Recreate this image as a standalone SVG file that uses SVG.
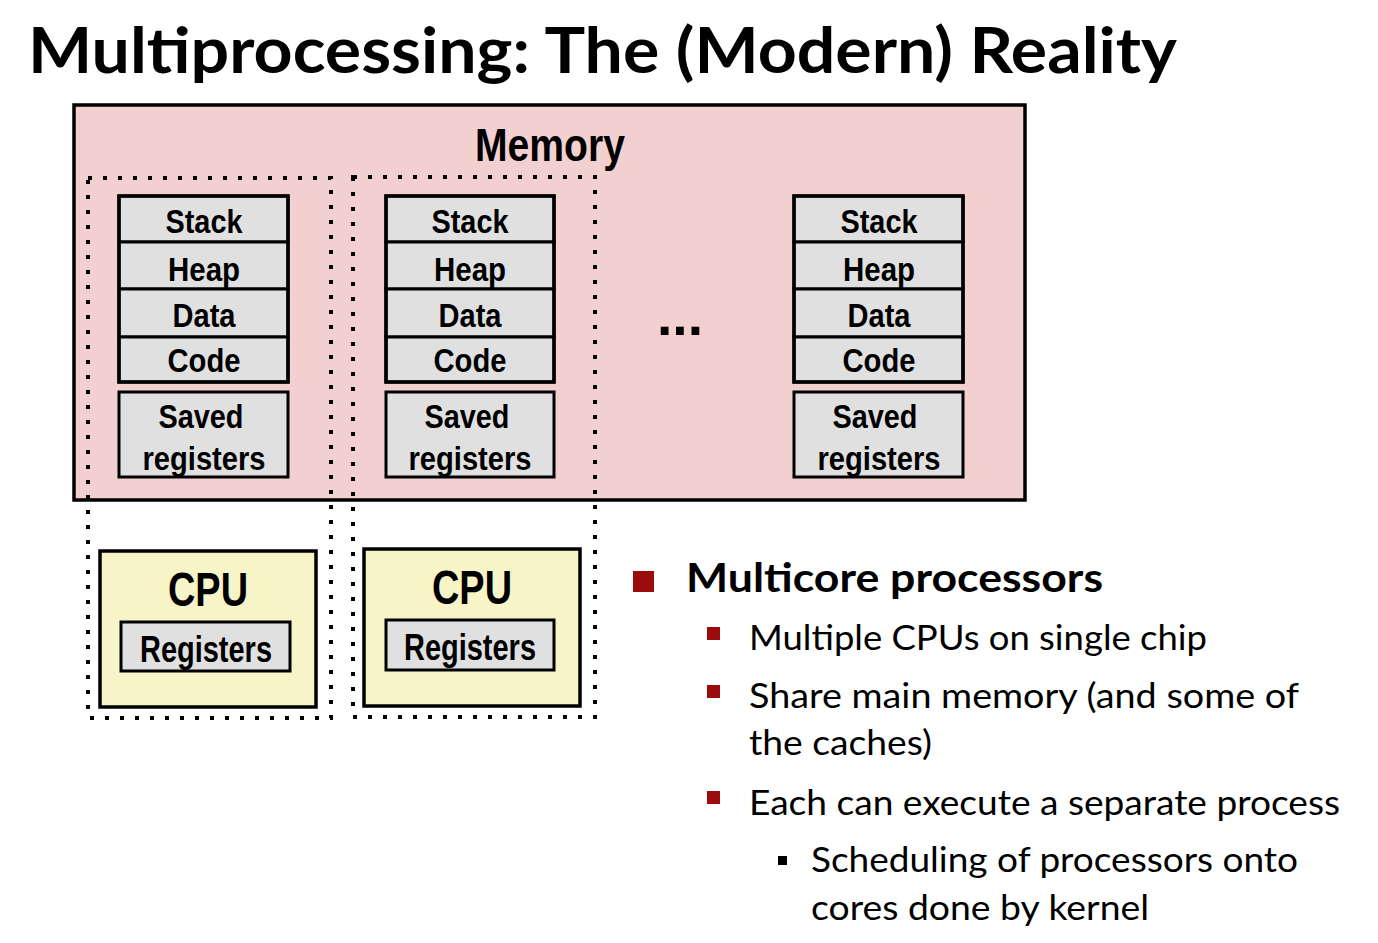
<svg xmlns="http://www.w3.org/2000/svg" width="1378" height="943" viewBox="0 0 1378 943">
  <defs>
    <style>
      .title { font-family: Lato, "Open Sans", sans-serif; font-weight: bold; font-size: 64px; fill: #000; }
      .lbl { font-family: "Liberation Sans Narrow", "Liberation Sans", sans-serif; font-weight: bold; fill: #000; text-anchor: middle; }
      .seg { fill: #e0e0e0; stroke: #000; stroke-width: 3; }
      .cpu { fill: #f7f4c8; stroke: #000; stroke-width: 3.5; }
      .dots { fill: none; stroke: #000; stroke-width: 4; stroke-dasharray: 4 11; }
      .b1 { font-family: Lato, "Open Sans", sans-serif; font-weight: bold; font-size: 41px; fill: #000; }
      .b2 { font-family: Lato, "Open Sans", sans-serif; font-size: 34px; fill: #000; }
      .red { fill: #9b0d0d; }
    </style>
  </defs>

  <rect width="1378" height="943" fill="#fff"/>

  <text class="title" x="28" y="73" textLength="1149" lengthAdjust="spacingAndGlyphs">Multiprocessing: The (Modern) Reality</text>

  <!-- shared memory -->
  <g id="memory">
    <rect x="74" y="105" width="951" height="395" fill="#f3d0d0" stroke="#000" stroke-width="3.5"/>
    <text class="lbl" x="550" y="161" font-size="46" textLength="150" lengthAdjust="spacingAndGlyphs">Memory</text>
    <text x="680" y="335" font-family="Liberation Sans, sans-serif" font-weight="bold" font-size="56" text-anchor="middle" textLength="46" lengthAdjust="spacingAndGlyphs">...</text>
  </g>

  <!-- process / core groupings -->
  <g id="groupings">
    <rect class="dots" x="88" y="178" width="243" height="540"/>
    <rect class="dots" x="353" y="177" width="242" height="540"/>
  </g>

  <!-- address space 1 -->
  <g id="proc1">
    <rect class="seg" x="119" y="196" width="169" height="46"/>
    <rect class="seg" x="119" y="242" width="169" height="47"/>
    <rect class="seg" x="119" y="289" width="169" height="48"/>
    <rect class="seg" x="119" y="337" width="169" height="45"/>
    <rect x="119" y="196" width="169" height="186" fill="none" stroke="#000" stroke-width="3.5"/>
    <text class="lbl" x="204" y="233" font-size="34" textLength="77" lengthAdjust="spacingAndGlyphs">Stack</text>
    <text class="lbl" x="204" y="281" font-size="34" textLength="72" lengthAdjust="spacingAndGlyphs">Heap</text>
    <text class="lbl" x="204" y="327" font-size="34" textLength="63" lengthAdjust="spacingAndGlyphs">Data</text>
    <text class="lbl" x="204" y="372" font-size="34" textLength="73" lengthAdjust="spacingAndGlyphs">Code</text>
    <rect class="seg" x="119" y="392" width="169" height="85" stroke-width="3.5"/>
    <text class="lbl" x="201" y="428" font-size="34" textLength="85" lengthAdjust="spacingAndGlyphs">Saved</text>
    <text class="lbl" x="204" y="470" font-size="34" textLength="123" lengthAdjust="spacingAndGlyphs">registers</text>
  </g>

  <!-- address space 2 -->
  <g id="proc2">
    <rect class="seg" x="386" y="196" width="168" height="46"/>
    <rect class="seg" x="386" y="242" width="168" height="47"/>
    <rect class="seg" x="386" y="289" width="168" height="48"/>
    <rect class="seg" x="386" y="337" width="168" height="45"/>
    <rect x="386" y="196" width="168" height="186" fill="none" stroke="#000" stroke-width="3.5"/>
    <text class="lbl" x="470" y="233" font-size="34" textLength="77" lengthAdjust="spacingAndGlyphs">Stack</text>
    <text class="lbl" x="470" y="281" font-size="34" textLength="72" lengthAdjust="spacingAndGlyphs">Heap</text>
    <text class="lbl" x="470" y="327" font-size="34" textLength="63" lengthAdjust="spacingAndGlyphs">Data</text>
    <text class="lbl" x="470" y="372" font-size="34" textLength="73" lengthAdjust="spacingAndGlyphs">Code</text>
    <rect class="seg" x="386" y="392" width="168" height="85" stroke-width="3.5"/>
    <text class="lbl" x="467" y="428" font-size="34" textLength="85" lengthAdjust="spacingAndGlyphs">Saved</text>
    <text class="lbl" x="470" y="470" font-size="34" textLength="123" lengthAdjust="spacingAndGlyphs">registers</text>
  </g>

  <!-- address space n -->
  <g id="procN">
    <rect class="seg" x="794" y="196" width="169" height="46"/>
    <rect class="seg" x="794" y="242" width="169" height="47"/>
    <rect class="seg" x="794" y="289" width="169" height="48"/>
    <rect class="seg" x="794" y="337" width="169" height="45"/>
    <rect x="794" y="196" width="169" height="186" fill="none" stroke="#000" stroke-width="3.5"/>
    <text class="lbl" x="879" y="233" font-size="34" textLength="77" lengthAdjust="spacingAndGlyphs">Stack</text>
    <text class="lbl" x="879" y="281" font-size="34" textLength="72" lengthAdjust="spacingAndGlyphs">Heap</text>
    <text class="lbl" x="879" y="327" font-size="34" textLength="63" lengthAdjust="spacingAndGlyphs">Data</text>
    <text class="lbl" x="879" y="372" font-size="34" textLength="73" lengthAdjust="spacingAndGlyphs">Code</text>
    <rect class="seg" x="794" y="392" width="169" height="85" stroke-width="3.5"/>
    <text class="lbl" x="875" y="428" font-size="34" textLength="85" lengthAdjust="spacingAndGlyphs">Saved</text>
    <text class="lbl" x="879" y="470" font-size="34" textLength="123" lengthAdjust="spacingAndGlyphs">registers</text>
  </g>

  <!-- cores -->
  <g id="cpu1">
    <rect class="cpu" x="100" y="551" width="216" height="156"/>
    <text class="lbl" x="208" y="606" font-size="48" textLength="80" lengthAdjust="spacingAndGlyphs">CPU</text>
    <rect class="seg" x="121" y="622" width="169" height="49" stroke-width="3.5"/>
    <text class="lbl" x="206" y="662" font-size="36" textLength="132" lengthAdjust="spacingAndGlyphs">Registers</text>
  </g>
  <g id="cpu2">
    <rect class="cpu" x="364" y="549" width="216" height="157"/>
    <text class="lbl" x="472" y="604" font-size="48" textLength="80" lengthAdjust="spacingAndGlyphs">CPU</text>
    <rect class="seg" x="386" y="620" width="168" height="50" stroke-width="3.5"/>
    <text class="lbl" x="470" y="660" font-size="36" textLength="132" lengthAdjust="spacingAndGlyphs">Registers</text>
  </g>

  <!-- bullet list -->
  <g id="notes">
    <rect class="red" x="633" y="571" width="21" height="21"/>
    <text class="b1" x="686" y="592" textLength="417" lengthAdjust="spacingAndGlyphs">Multicore processors</text>

    <rect class="red" x="707" y="627" width="13" height="13"/>
    <text class="b2" x="749" y="650" textLength="458" lengthAdjust="spacingAndGlyphs">Multiple CPUs on single chip</text>

    <rect class="red" x="707" y="685" width="13" height="13"/>
    <text class="b2" x="749" y="708" textLength="550" lengthAdjust="spacingAndGlyphs">Share main memory (and some of</text>
    <text class="b2" x="749" y="755" textLength="183" lengthAdjust="spacingAndGlyphs">the caches)</text>

    <rect class="red" x="707" y="791" width="13" height="13"/>
    <text class="b2" x="749" y="815" textLength="591" lengthAdjust="spacingAndGlyphs">Each can execute a separate process</text>

    <rect x="778" y="856" width="9" height="9" fill="#000"/>
    <text class="b2" x="811" y="872" textLength="487" lengthAdjust="spacingAndGlyphs">Scheduling of processors onto</text>
    <text class="b2" x="811" y="920" textLength="338" lengthAdjust="spacingAndGlyphs">cores done by kernel</text>
  </g>
</svg>
